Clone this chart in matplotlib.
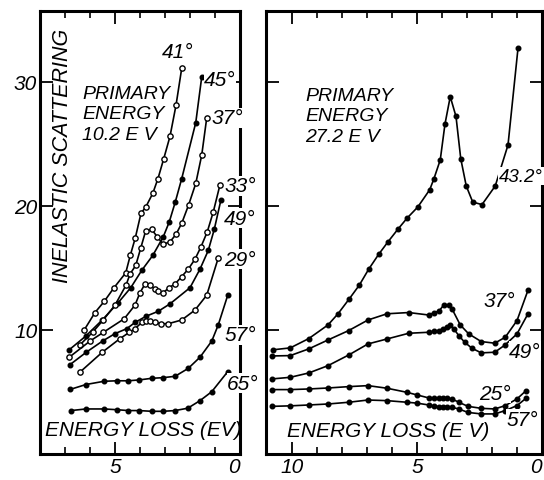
import numpy as np
import matplotlib.pyplot as plt

plt.rcParams['font.family'] = ['Liberation Sans', 'DejaVu Sans']

# ---- left panel: primary energy 10.2 eV ----
x41 = [6.23, 5.8, 5.43, 5.04, 4.57, 4.39, 4.19, 3.96, 3.77, 3.49, 3.28, 3.05, 2.8, 2.56, 2.33]
y41 = [10.0, 11.4, 12.3, 13.4, 14.6, 16.0, 17.4, 19.4, 19.9, 21.0, 22.2, 23.8, 25.6, 28.1, 31.1]

x45 = [6.83, 6.17, 5.51, 4.87, 4.37, 3.93, 3.49, 3.07, 2.83, 2.59, 2.33, 1.77, 1.53]
y45 = [8.4, 9.5, 10.8, 12.2, 13.4, 14.8, 16.0, 17.5, 18.7, 20.3, 22.2, 26.7, 30.4]

x37 = [6.4, 5.9, 5.47, 5.0, 4.56, 4.4, 4.17, 3.97, 3.77, 3.53, 3.31, 3.07, 2.8, 2.56, 2.33, 2.05, 1.77, 1.53, 1.33]
y37 = [8.8, 9.8, 10.8, 12.0, 13.6, 14.5, 15.2, 16.6, 18.0, 18.1, 17.5, 16.9, 17.1, 17.7, 18.6, 20.1, 21.8, 24.1, 27.1]

x33 = [6.83, 6.0, 5.47, 4.63, 4.2, 4.0, 3.8, 3.6, 3.4, 3.27, 3.07, 2.84, 2.6, 2.33, 2.07, 1.8, 1.56, 1.31, 1.07, 0.8]
y33 = [7.8, 9.1, 9.8, 10.9, 12.0, 13.0, 13.7, 13.6, 13.3, 13.1, 13.0, 13.4, 13.7, 14.3, 14.9, 15.7, 16.7, 17.9, 19.5, 21.7]

x49 = [6.8, 6.15, 5.5, 5.0, 4.53, 4.2, 3.76, 3.27, 2.8, 2.0, 1.6, 1.27, 1.03, 0.76]
y49 = [7.2, 8.2, 9.1, 9.7, 10.1, 10.6, 11.1, 11.5, 12.1, 13.4, 14.9, 16.4, 18.1, 20.5]

x29 = [6.4, 5.51, 4.8, 4.43, 4.2, 3.93, 3.76, 3.6, 3.4, 3.17, 2.87, 2.33, 1.8, 1.33, 0.87]
y29 = [6.6, 8.2, 9.3, 9.8, 10.1, 10.6, 10.7, 10.7, 10.6, 10.5, 10.5, 10.8, 11.6, 12.8, 15.8]

x57 = [6.8, 6.16, 5.44, 4.93, 4.47, 4.03, 3.53, 3.09, 2.6, 2.07, 1.6, 1.13, 0.87, 0.49]
y57 = [5.2, 5.6, 5.86, 5.9, 5.9, 5.97, 6.1, 6.15, 6.26, 6.9, 7.8, 9.1, 10.4, 12.8]

x65 = [6.76, 6.16, 5.44, 4.93, 4.47, 4.03, 3.53, 3.09, 2.6, 2.09, 1.6, 1.13, 0.49]
y65 = [3.5, 3.63, 3.63, 3.57, 3.5, 3.5, 3.44, 3.44, 3.5, 3.69, 4.3, 5.02, 6.64]

# ---- right panel: primary energy 27.2 eV ----
r43 = [10.75, 10.07, 9.33, 8.56, 8.16, 7.71, 7.31, 6.93, 6.53, 6.16, 5.77, 5.4, 4.97, 4.49, 4.32,
       4.07, 3.88, 3.67, 3.44, 3.25, 3.03, 2.77, 2.4, 1.87, 1.36, 0.96]
s43 = [8.4, 8.55, 9.3, 10.4, 11.3, 12.5, 13.6, 14.9, 16.1, 17.1, 18.1, 19.0, 19.9, 21.3, 22.2,
       23.7, 26.6, 28.8, 27.2, 23.8, 21.6, 20.3, 20.1, 21.6, 24.9, 32.7]

r37 = [10.8, 10.07, 9.33, 8.56, 7.73, 6.96, 6.2, 5.33, 4.53, 4.31, 4.13, 3.93, 3.73, 3.6, 3.27,
       2.93, 2.43, 1.89, 1.47, 1.0, 0.56]
s37 = [7.9, 7.93, 8.47, 9.19, 9.95, 10.8, 11.3, 11.4, 11.2, 11.4, 11.5, 12.0, 12.0, 11.7, 10.4,
       9.68, 9.06, 8.93, 9.41, 10.75, 13.2]

r49 = [10.8, 10.07, 9.33, 8.56, 7.73, 6.96, 6.2, 5.33, 4.53, 4.31, 4.13, 3.96, 3.8, 3.69, 3.53,
       3.33, 3.09, 2.8, 2.43, 1.89, 1.47, 1.0, 0.56]
s49 = [6.05, 6.18, 6.53, 7.12, 7.98, 8.87, 9.27, 9.73, 9.81, 9.89, 9.95, 10.08, 10.2, 10.4, 10.1,
       9.54, 9.0, 8.52, 8.15, 8.2, 8.8, 9.68, 11.3]

r25 = [10.8, 10.07, 9.33, 8.56, 7.73, 6.96, 6.2, 5.4, 5.0, 4.53, 4.31, 4.13, 3.96, 3.8, 3.6,
       3.33, 2.96, 2.43, 1.89, 1.47, 1.0, 0.64]
s25 = [5.19, 5.19, 5.24, 5.32, 5.43, 5.51, 5.3, 4.97, 4.76, 4.52, 4.48, 4.48, 4.5, 4.5, 4.44,
       4.17, 3.84, 3.68, 3.63, 3.9, 4.44, 5.1]

r57 = [10.8, 10.07, 9.33, 8.56, 7.73, 6.96, 6.2, 5.4, 5.0, 4.53, 4.31, 4.13, 3.96, 3.8, 3.6,
       3.33, 2.96, 2.43, 1.89, 1.47, 1.0, 0.64]
s57 = [3.84, 3.88, 3.95, 4.03, 4.17, 4.35, 4.3, 4.17, 4.1, 3.95, 3.85, 3.82, 3.82, 3.82, 3.76,
       3.63, 3.35, 3.23, 3.23, 3.5, 3.9, 4.49]

left_labels = ['41°', '45°', '37°', '33°', '49°', '29°', '57°', '65°']
right_labels = ['43.2°', '37°', '49°', '25°', '57°']

fig = plt.figure(figsize=(5.44, 4.81), dpi=100)
axl = fig.add_axes([40/544, 26/481, 200/544, 443/481])
axr = fig.add_axes([266/544, 26/481, 276/544, 443/481])

def curve(ax, x, y, open_=False):
    ax.plot(x, y, '-', color='black', lw=1.2, marker='o', ms=3.8 if open_ else 3.3,
            mfc='white' if open_ else 'black', mec='black', mew=1.0, clip_on=False, zorder=3)

curve(axl, x41, y41, True)
curve(axl, x45, y45)
curve(axl, x37, y37, True)
curve(axl, x33, y33, True)
curve(axl, x49, y49)
curve(axl, x29, y29, True)
curve(axl, x57, y57)
curve(axl, x65, y65)

for xs, ys in [(r43, s43), (r37, s37), (r49, s49), (r25, s25), (r57, s57)]:
    curve(axr, xs, ys)

font = dict(style='italic', color='black')
for ax, xmax in [(axl, 8.0), (axr, 11.04)]:
    ax.set_xlim(xmax, 0)
    ax.set_ylim(0, 35.7)
    for s in ax.spines.values():
        s.set_linewidth(2.2)
    ax.set_xticks([5, 0] if ax is axl else [10, 5, 0])
    ax.set_xticks(np.arange(0, xmax, 1.0), minor=True)
    ax.set_yticks([10, 20, 30])
    ax.tick_params(which='major', direction='in', length=9, width=1.3, top=True, right=True,
                   labelsize=15, pad=2)
    ax.tick_params(which='minor', direction='in', length=5, width=1.2, top=True, bottom=True)

axr.set_yticklabels([])
axl.set_xticklabels(['5', '0'])
axr.set_xticklabels(['10', '5', '0'])
for ax in (axl, axr):
    for lab in ax.get_xticklabels() + ax.get_yticklabels():
        lab.set_style('italic')
    ax.get_xticklabels()[-1].set_horizontalalignment('right')

fig.text(62/544, (481-156)/481, 'INELASTIC SCATTERING', rotation=90,
         ha='center', va='center', fontsize=15.5, **font)
fig.text(82/544, (481-86)/481, 'PRIMARY\nENERGY\n10.2 E V', ha='left', va='top',
         fontsize=14, linespacing=1.25, **font)
fig.text(45/544, (481-431)/481, 'ENERGY LOSS (EV)', ha='left', va='center',
         fontsize=15, **font)
fig.text(305/544, (481-88)/481, 'PRIMARY\nENERGY\n27.2 E V', ha='left', va='top',
         fontsize=14, linespacing=1.25, **font)
fig.text(287/544, (481-432)/481, 'ENERGY LOSS (E V)', ha='left', va='center',
         fontsize=15, **font)

box = dict(facecolor='white', edgecolor='none', pad=0.5)
for txt, x, y in zip(left_labels,
                     [2.48, 0.8, 0.52, 0.0, 0.0, 0.0, 0.0, -0.12],
                     [32.4, 30.2, 27.1, 21.6, 19.0, 15.7, 9.6, 5.7]):
    axl.text(x, y, txt, ha='center', va='center', fontsize=15, bbox=box, clip_on=False, zorder=5, **font)
for txt, x, y in zip(right_labels,
                     [0.84, 1.72, 0.68, 1.88, 0.8],
                     [22.4, 12.4, 8.3, 4.9, 2.8]):
    axr.text(x, y, txt, ha='center', va='center', fontsize=15 if len(txt) < 4 else 13.5,
             bbox=box, clip_on=False, zorder=5, **font)

fig.savefig('out.png', dpi=100)
